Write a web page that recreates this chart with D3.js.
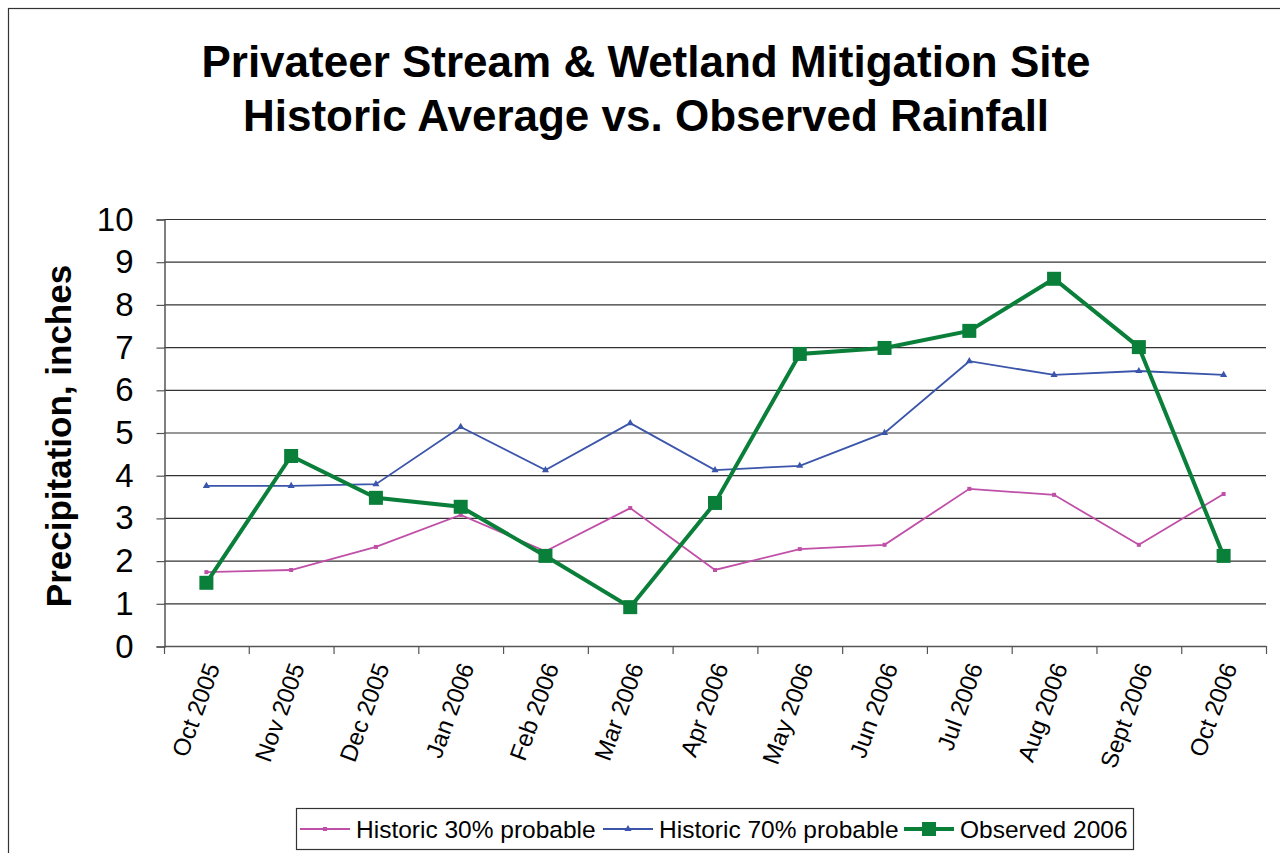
<!DOCTYPE html>
<html>
<head>
<meta charset="utf-8">
<script src="https://cdn.jsdelivr.net/npm/d3@7"></script>
<style>
  body { margin: 0; background: #fff; }
  svg { display: block; font-family: "Liberation Sans", Arial, sans-serif; }
</style>
</head>
<body>
<div class="svgContainer"></div>
<script>
let months = ["Oct 2005", "Nov 2005", "Dec 2005", "Jan 2006", "Feb 2006", "Mar 2006", "Apr 2006",
    "May 2006", "Jun 2006", "Jul 2006", "Aug 2006", "Sept 2006", "Oct 2006"];
let hist30 = [1.73, 1.78, 2.32, 3.07, 2.22, 3.23, 1.78, 2.27, 2.37, 3.68, 3.54, 2.37, 3.56];
let hist70 = [3.75, 3.75, 3.79, 5.13, 4.12, 5.22, 4.12, 4.22, 4.99, 6.67, 6.35, 6.44, 6.35];
let observed = [1.48, 4.45, 3.47, 3.26, 2.11, 0.91, 3.35, 6.84, 6.98, 7.38, 8.6, 7.0, 2.11];
let yTicks = [0, 1, 2, 3, 4, 5, 6, 7, 8, 9, 10];

let w = 1280;
let h = 853;

let plotLeft = 164, plotRight = 1266, plotTop = 219, plotBottom = 646;

let xScale = d3.scaleBand()
    .domain(months)
    .range([plotLeft, plotRight]);

let yScale = d3.scaleLinear()
    .domain([0, 10])
    .range([plotBottom, plotTop]);

const svg = d3.select(".svgContainer")
    .append("svg")
    .attr("width", w)
    .attr("height", h);

// outer frame (cut off at right/bottom like the reference)
svg.append("rect")
    .attr("x", 8.5).attr("y", 8.5)
    .attr("width", 1400).attr("height", 1000)
    .attr("fill", "none")
    .attr("stroke", "#333")
    .attr("stroke-width", 1.2);

// title
svg.append("text")
    .attr("x", 646).attr("y", 77)
    .attr("text-anchor", "middle")
    .attr("font-size", 44).attr("font-weight", "bold")
    .text("Privateer Stream & Wetland Mitigation Site");
svg.append("text")
    .attr("x", 646).attr("y", 131)
    .attr("text-anchor", "middle")
    .attr("font-size", 44).attr("font-weight", "bold")
    .text("Historic Average vs. Observed Rainfall");

// gridlines
svg.append("g")
    .selectAll("line")
    .data(yTicks.filter(d => d > 0))
    .enter()
    .append("line")
    .attr("x1", plotLeft).attr("x2", plotRight)
    .attr("y1", d => yScale(d) + 0.5).attr("y2", d => yScale(d) + 0.5)
    .attr("stroke", "#333").attr("stroke-width", 1.2);

// y axis
const yAxis = d3.axisLeft(yScale).tickValues(yTicks).tickSize(8).tickPadding(8);
const gy = svg.append("g")
    .attr("id", "y-axis")
    .attr("transform", `translate(${plotLeft + 0.5}, 0.5)`)
    .call(yAxis);
gy.select(".domain").attr("stroke", "#555").attr("stroke-width", 1.5);
gy.selectAll(".tick line").attr("stroke", "#555").attr("stroke-width", 1.2);
gy.selectAll("text")
    .attr("font-size", 33)
    .attr("font-family", "Liberation Sans, Arial, sans-serif")
    .attr("fill", "#000")
    .attr("x", -31);

// x axis with ticks between categories
let xTickPos = months.map(m => xScale(m)).concat([plotRight]);
svg.append("line")
    .attr("x1", plotLeft).attr("x2", plotRight)
    .attr("y1", plotBottom + 0.5).attr("y2", plotBottom + 0.5)
    .attr("stroke", "#555").attr("stroke-width", 1.5);
svg.append("g")
    .selectAll("line")
    .data(xTickPos)
    .enter()
    .append("line")
    .attr("x1", d => d + 0.5).attr("x2", d => d + 0.5)
    .attr("y1", plotBottom).attr("y2", plotBottom + 8)
    .attr("stroke", "#555").attr("stroke-width", 1.2);

svg.append("g")
    .selectAll("text")
    .data(months)
    .enter()
    .append("text")
    .attr("transform", d => `translate(${xScale(d) + xScale.bandwidth() / 2 + 6}, 664) rotate(-70)`)
    .attr("text-anchor", "end")
    .attr("dy", "0.35em")
    .attr("font-size", 24)
    .text(d => d);

// y axis title
svg.append("text")
    .attr("transform", "translate(71, 436) rotate(-90)")
    .attr("text-anchor", "middle")
    .attr("font-size", 35).attr("font-weight", "bold")
    .text("Precipitation, inches");

let cx = (d, i) => xScale(months[i]) + xScale.bandwidth() / 2;
let line = d3.line().x(cx).y(d => yScale(d));

let pink = "#C04FA8", blue = "#3A55AA", green = "#0A7F3A";

svg.append("path").datum(hist30)
    .attr("d", line).attr("fill", "none")
    .attr("stroke", pink).attr("stroke-width", 1.8);
svg.selectAll(".p30").data(hist30).enter().append("rect")
    .attr("x", (d, i) => cx(d, i) - 2).attr("y", d => yScale(d) - 2)
    .attr("width", 4).attr("height", 4).attr("fill", pink);

svg.append("path").datum(hist70)
    .attr("d", line).attr("fill", "none")
    .attr("stroke", blue).attr("stroke-width", 1.8);
let tri = d3.symbol().type(d3.symbolTriangle).size(22);
svg.selectAll(".p70").data(hist70).enter().append("path")
    .attr("d", tri)
    .attr("transform", (d, i) => `translate(${cx(d, i)}, ${yScale(d)})`)
    .attr("fill", blue);

svg.append("path").datum(observed)
    .attr("d", line).attr("fill", "none")
    .attr("stroke", green).attr("stroke-width", 4);
svg.selectAll(".obs").data(observed).enter().append("rect")
    .attr("x", (d, i) => cx(d, i) - 7).attr("y", d => yScale(d) - 7)
    .attr("width", 14).attr("height", 14).attr("fill", green);

// legend
let lg = svg.append("g");
lg.append("rect")
    .attr("x", 296.5).attr("y", 808.5)
    .attr("width", 837).attr("height", 41)
    .attr("fill", "#fff").attr("stroke", "#333").attr("stroke-width", 1.2);

let legendItems = [
    { label: "Historic 30% probable", color: pink, x: 300, sw: 1.8, marker: "sq4" },
    { label: "Historic 70% probable", color: blue, x: 603, sw: 1.8, marker: "tri" },
    { label: "Observed 2006", color: green, x: 904, sw: 4, marker: "sq14" }
];
let ly = 829;
legendItems.forEach(it => {
    lg.append("line")
        .attr("x1", it.x).attr("x2", it.x + 50)
        .attr("y1", ly).attr("y2", ly)
        .attr("stroke", it.color).attr("stroke-width", it.sw);
    if (it.marker === "sq4") {
        lg.append("rect").attr("x", it.x + 23).attr("y", ly - 2).attr("width", 4).attr("height", 4).attr("fill", it.color);
    } else if (it.marker === "tri") {
        lg.append("path").attr("d", tri).attr("transform", `translate(${it.x + 25}, ${ly})`).attr("fill", it.color);
    } else {
        lg.append("rect").attr("x", it.x + 18).attr("y", ly - 7).attr("width", 14).attr("height", 14).attr("fill", it.color);
    }
    lg.append("text")
        .attr("x", it.x + 56).attr("y", ly)
        .attr("dy", "0.35em")
        .attr("font-size", 24.5)
        .text(it.label);
});
</script>
</body>
</html>
